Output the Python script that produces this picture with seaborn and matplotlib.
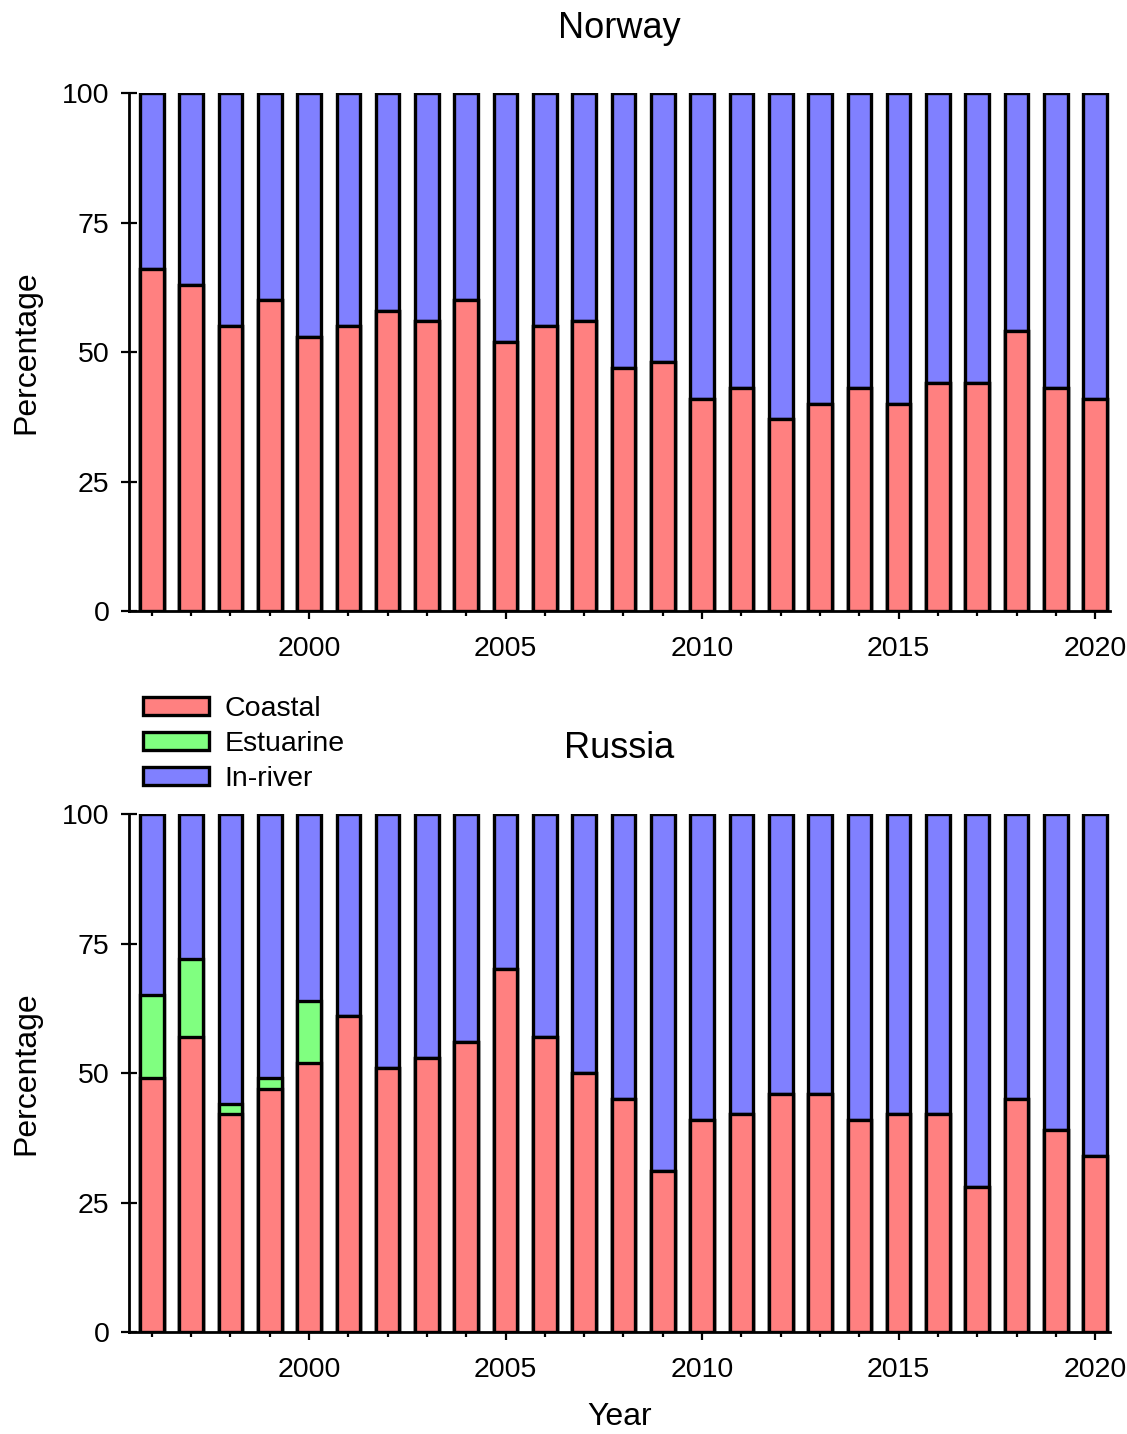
import matplotlib
matplotlib.use("Agg")
import matplotlib.pyplot as plt
import seaborn as sns
import numpy as np
import pandas as pd
from matplotlib.patches import Patch
from matplotlib.ticker import MultipleLocator

# Share of catches by fishery type (%), 1996-2020
years = list(range(1996, 2021))

norway_coastal = [66, 63, 55, 60, 53, 55, 58, 56, 60, 52, 55, 56, 47,
                  48, 41, 43, 37, 40, 43, 40, 44, 44, 54, 43, 41]
norway_estuarine = [0] * 25
norway_inriver = [34, 37, 45, 40, 47, 45, 42, 44, 40, 48, 45, 44, 53,
                  52, 59, 57, 63, 60, 57, 60, 56, 56, 46, 57, 59]

russia_coastal = [49, 57, 42, 47, 52, 61, 51, 53, 56, 70, 57, 50, 45,
                  31, 41, 42, 46, 46, 41, 42, 42, 28, 45, 39, 34]
russia_estuarine = [16, 15, 2, 2, 12, 0, 0, 0, 0, 0, 0, 0, 0,
                    0, 0, 0, 0, 0, 0, 0, 0, 0, 0, 0, 0]
russia_inriver = [35, 28, 56, 51, 36, 39, 49, 47, 44, 30, 43, 50, 55,
                  69, 59, 58, 54, 54, 59, 58, 58, 72, 55, 61, 66]

categories = ["Coastal", "Estuarine", "In-river"]
colors = {"Coastal": "#FF8080", "Estuarine": "#80FF80", "In-river": "#8080FF"}

sns.set_theme(style="ticks")
plt.rcParams["font.family"] = ["Liberation Sans", "DejaVu Sans"]
plt.rcParams["axes.linewidth"] = 2.0
plt.rcParams["text.color"] = "black"
plt.rcParams["axes.labelcolor"] = "black"
plt.rcParams["xtick.color"] = "black"
plt.rcParams["ytick.color"] = "black"
plt.rcParams["axes.edgecolor"] = "black"

fig = plt.figure(figsize=(11.27, 14.34), dpi=100)
ax_top = fig.add_axes([0.1145, 0.5739, 0.8705, 0.3612])
ax_bot = fig.add_axes([0.1145, 0.0711, 0.8705, 0.3612])

EDGE = 2.4


def stacked(ax, coastal, estuarine, inriver):
    df = pd.DataFrame({"year": years, "Coastal": coastal,
                       "Estuarine": estuarine, "In-river": inriver})
    df["c1"] = df["Coastal"]
    df["c2"] = df["Coastal"] + df["Estuarine"]
    df["c3"] = df["c2"] + df["In-river"]
    # draw cumulative layers from the top of the stack downwards
    for col, cat in [("c3", "In-river"), ("c2", "Estuarine"), ("c1", "Coastal")]:
        sns.barplot(data=df, x="year", y=col, ax=ax, native_scale=True,
                    width=0.6, color=colors[cat], saturation=1,
                    edgecolor="black", linewidth=EDGE, errorbar=None)
    ax.set_xlim(1995.42, 2020.38)
    ax.set_ylim(0, 100)
    ax.set_yticks([0, 25, 50, 75, 100])
    ax.xaxis.set_major_locator(MultipleLocator(5))
    ax.xaxis.set_minor_locator(MultipleLocator(1))
    ax.set_xticks([2000, 2005, 2010, 2015, 2020])
    ax.tick_params(axis="y", direction="inout", length=12, width=1.6,
                   labelsize=20.5, pad=8, color="black", labelcolor="black")
    ax.tick_params(axis="x", which="major", direction="out", length=6,
                   width=1.6, labelsize=20.5, pad=12, color="black",
                   labelcolor="black")
    ax.tick_params(axis="x", which="minor", direction="out", length=3.5,
                   width=1.6, color="black")
    sns.despine(ax=ax)
    ax.spines["left"].set_linewidth(2.0)
    ax.spines["bottom"].set_linewidth(2.0)
    ax.set_ylabel("Percentage", fontsize=23, labelpad=15, color="black")
    ax.set_xlabel("")


stacked(ax_top, norway_coastal, norway_estuarine, norway_inriver)
stacked(ax_bot, russia_coastal, russia_estuarine, russia_inriver)
ax_bot.set_xlabel("Year", fontsize=23, labelpad=14, color="black")

fig.text(0.5497, 1 - 28 / 1434, "Norway", fontsize=26, ha="center",
         va="center", color="black")
fig.text(0.5497, 1 - 748 / 1434, "Russia", fontsize=26, ha="center",
         va="center", color="black")

handles = [Patch(facecolor=colors[c], edgecolor="black", linewidth=EDGE, label=c)
           for c in categories]
leg = fig.legend(handles=handles, loc="upper left", bbox_to_anchor=(0.1269, 0.5148),
                 frameon=False, fontsize=20.5, handlelength=2.3, handleheight=0.6,
                 handletextpad=0.55, labelspacing=0.32, borderpad=0,
                 borderaxespad=0)
for t in leg.get_texts():
    t.set_color("black")

fig.savefig("out.png", dpi=100)
